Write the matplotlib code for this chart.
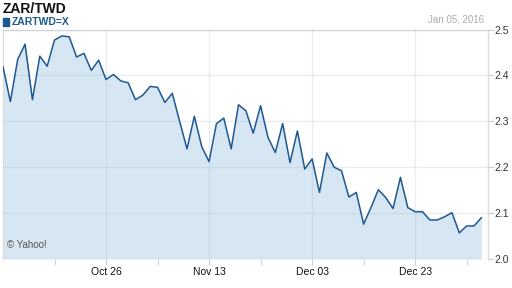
import matplotlib

matplotlib.use("Agg")
import matplotlib.pyplot as plt
import pandas as pd

# daily ZAR/TWD closes, business days 2015-10-06 .. 2016-01-05
dates = pd.bdate_range("2015-10-06", "2016-01-05")
rates = [
    2.419, 2.343, 2.435, 2.468, 2.347, 2.442, 2.420, 2.477, 2.486, 2.484,
    2.440, 2.448, 2.411, 2.433, 2.391, 2.402, 2.388, 2.384, 2.347, 2.357,
    2.376, 2.374, 2.341, 2.361, 2.300, 2.240, 2.311, 2.245, 2.212, 2.295,
    2.307, 2.240, 2.336, 2.323, 2.274, 2.334, 2.265, 2.232, 2.295, 2.210,
    2.279, 2.196, 2.218, 2.145, 2.231, 2.200, 2.192, 2.135, 2.145, 2.076,
    2.112, 2.151, 2.134, 2.110, 2.178, 2.112, 2.103, 2.103, 2.085, 2.085,
    2.092, 2.101, 2.057, 2.072, 2.072, 2.090,
]
tick_dates = ["2015-10-26", "2015-11-13", "2015-12-03", "2015-12-23"]
y_ticks = [2.0, 2.1, 2.2, 2.3, 2.4, 2.5]

plt.rcParams["font.family"] = ["Liberation Sans", "DejaVu Sans"]

LINE = "#1d5891"
FILL = "#d6e6f2"
GRID = "#b0c4d8"

xs = list(range(len(rates)))
date_pos = {d.strftime("%Y-%m-%d"): i for i, d in enumerate(dates)}
major = [date_pos[d] for d in tick_dates]
minor = [m - 7 for m in major] + [major[-1] + 7]

fig = plt.figure(figsize=(5.12, 2.88), dpi=100)
ax = fig.add_axes([3 / 512, 1 - 259 / 288, 485 / 512, 229.5 / 288])
ax.fill_between(xs, rates, 2.0, color=FILL, lw=0, zorder=1)
ax.plot(xs, rates, color=LINE, lw=1.1, zorder=3)

ax.set_xlim(0, 65.9)
ax.set_ylim(2.0, 2.5)

ax.set_xticks(major)
ax.set_xticklabels([pd.Timestamp(d).strftime("%b %d") for d in tick_dates])
ax.set_xticks(minor, minor=True)
ax.tick_params(axis="x", which="both", length=4, color="#cccccc", labelsize=7.5,
               labelcolor="#111111", pad=2)

ax.yaxis.tick_right()
ax.set_yticks(y_ticks)
ax.set_yticklabels([f"{v:.1f}" for v in y_ticks])
ax.tick_params(axis="y", length=4, color="#cccccc", labelsize=7.5,
               labelcolor="#333333", pad=0.5)

ax.grid(True, which="major", color=GRID, alpha=0.3, lw=1.0, zorder=2)
ax.set_axisbelow(False)
for side in ("left", "top", "right"):
    ax.spines[side].set_color("#dddddd")
    ax.spines[side].set_linewidth(1.0)
ax.spines["bottom"].set_visible(False)

fig.text(3 / 512, 1 - 2 / 288, "ZAR/TWD", fontsize=10, fontweight="bold",
         color="#111111", va="top", ha="left")
fig.patches.append(plt.Rectangle((3 / 512, 1 - 26 / 288), 6 / 512, 8 / 288,
                                 transform=fig.transFigure, color=LINE))
fig.text(12 / 512, 1 - 17 / 288, "ZARTWD=X", fontsize=7.5, fontweight="bold",
         color=LINE, va="top", ha="left")
fig.text(484 / 512, 1 - 14 / 288, "Jan 05, 2016", fontsize=7, color="#aaaaaa",
         va="top", ha="right")
ax.text(0.008, 0.04, "© Yahoo!", transform=ax.transAxes, fontsize=7,
        color="#555555", va="bottom", ha="left")

fig.savefig("out.png", dpi=100)
